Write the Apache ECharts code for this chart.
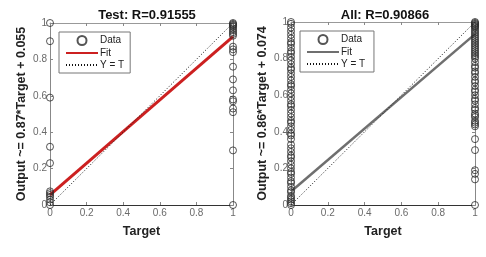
<!DOCTYPE html>
<html><head><meta charset="utf-8">
<script src="https://cdn.jsdelivr.net/npm/echarts@6/dist/echarts.min.js"></script>
<style>html,body{margin:0;padding:0;background:#fff}#c{width:486px;height:257px}</style>
</head><body><div id="c"></div>
<script>
// ---- data ----
const titles = ['Test: R=0.91555', 'All: R=0.90866'];
const yNames = ['Output ~= 0.87*Target + 0.055', 'Output ~= 0.86*Target + 0.074'];
const xName = 'Target';
const ticks = [0, 0.2, 0.4, 0.6, 0.8, 1];
// Test panel outputs for target 0 and target 1
const testT0 = [1.0, 0.9, 0.59, 0.32, 0.23, 0.075, 0.065, 0.055, 0.045, 0.03, 0.015, 0.0];
const testT1 = [1.0, 0.995, 0.99, 0.985, 0.98, 0.97, 0.96, 0.95, 0.94, 0.93, 0.87, 0.855, 0.84, 0.76, 0.69, 0.63, 0.58, 0.57, 0.53, 0.51, 0.30, 0.0];
const testFit = [0.055, 0.925];   // fit line at target 0 and 1
// All panel outputs
const allT0 = [1.0, 0.99, 0.97, 0.95, 0.93, 0.91, 0.89, 0.88, 0.86, 0.84, 0.83, 0.81, 0.79, 0.77, 0.75, 0.74, 0.72, 0.70, 0.68, 0.66, 0.65, 0.63, 0.61, 0.59, 0.57, 0.55, 0.54, 0.52, 0.50, 0.48, 0.46, 0.45, 0.43, 0.41, 0.39, 0.38, 0.36, 0.33, 0.31, 0.29, 0.27, 0.26, 0.24, 0.22, 0.20, 0.18, 0.17, 0.15, 0.13, 0.12, 0.10, 0.08, 0.07, 0.05, 0.04, 0.03, 0.02, 0.01, 0.0];
const allT1 = [1.0, 0.995, 0.99, 0.985, 0.98, 0.975, 0.97, 0.96, 0.95, 0.94, 0.93, 0.92, 0.91, 0.90, 0.89, 0.88, 0.87, 0.86, 0.85, 0.84, 0.83, 0.82, 0.81, 0.80, 0.78, 0.76, 0.75, 0.73, 0.72, 0.70, 0.68, 0.67, 0.65, 0.63, 0.62, 0.60, 0.58, 0.57, 0.55, 0.53, 0.52, 0.50, 0.49, 0.48, 0.46, 0.45, 0.44, 0.43, 0.36, 0.30, 0.19, 0.17, 0.14, 0.0];
const allFit = [0.074, 0.934];
const identity = [0, 1];

const FONT = 'Liberation Sans, Arial, sans-serif';
const chart = echarts.init(document.getElementById('c'), null, {renderer: 'canvas'});

function pts(t0, t1) {
  return t0.map(v => [0, v]).concat(t1.map(v => [1, v]));
}
const grids = [
  {left: 50, top: 23, width: 183, height: 182},
  {left: 291, top: 22, width: 184, height: 183}
];
function axisBase(gi, pos, showLabel, lineColor) {
  return {
    type: 'value', gridIndex: gi, position: pos, min: 0, max: 1, interval: 0.2,
    axisLine: {show: true, onZero: false, lineStyle: {color: lineColor, width: 1}},
    axisTick: {show: true, inside: true, length: 3, lineStyle: {color: '#888'}},
    axisLabel: {show: showLabel, color: '#6a6a6a', fontSize: 10, fontFamily: FONT, margin: 3,
      formatter: v => String(+v.toFixed(1))},
    splitLine: {show: false}
  };
}
const xAxes = [], yAxes = [];
[0, 1].forEach(g => {
  xAxes.push(Object.assign(axisBase(g, 'bottom', true, '#333'), {
    name: xName, nameLocation: 'middle', nameGap: 20,
    nameTextStyle: {fontSize: 12.5, fontWeight: 'bold', color: '#222', fontFamily: FONT}}));
  xAxes.push(axisBase(g, 'top', false, '#999'));
  yAxes.push(Object.assign(axisBase(g, 'left', true, '#888'), {
    name: yNames[g], nameLocation: 'middle', nameGap: 22, nameRotate: 90,
    nameTextStyle: {fontSize: 12.5, fontWeight: 'bold', color: '#222', fontFamily: FONT}}));
  yAxes.push(axisBase(g, 'right', false, '#888'));
});

const fitColors = ['#cc2020', '#6f6f6f'];
const fitWidths = [3, 2.5];
const fits = [testFit, allFit];
const pointSets = [pts(testT0, testT1), pts(allT0, allT1)];
const suffix = ['', ' '];
const series = [];
[0, 1].forEach(g => {
  series.push({
    name: 'Fit' + suffix[g], type: 'line', xAxisIndex: g * 2, yAxisIndex: g * 2,
    data: [[0, fits[g][0]], [1, fits[g][1]]], symbol: 'none', z: 2,
    lineStyle: {color: fitColors[g], width: fitWidths[g]}, itemStyle: {color: fitColors[g]}
  });
  series.push({
    name: 'Y = T' + suffix[g], type: 'line', xAxisIndex: g * 2, yAxisIndex: g * 2,
    data: [[0, identity[0]], [1, identity[1]]], symbol: 'none', z: 2,
    lineStyle: {color: '#111', width: 1, type: [1, 2]}, itemStyle: {color: '#111'}
  });
  series.push({
    name: 'Data' + suffix[g], type: 'scatter', xAxisIndex: g * 2, yAxisIndex: g * 2,
    data: pointSets[g], symbol: 'circle', symbolSize: 7, clip: false, z: 3,
    itemStyle: {color: 'rgba(0,0,0,0)', borderColor: '#2a2a2a', borderWidth: 1},
    emphasis: {disabled: true}
  });
});

const legendPos = [{left: 59, top: 32}, {left: 300, top: 31}];
const legends = [0, 1].map(g => ({
  left: legendPos[g].left, top: legendPos[g].top, orient: 'vertical',
  data: [
    {name: 'Data' + suffix[g]},
    {name: 'Fit' + suffix[g], itemStyle: {opacity: 0}},
    {name: 'Y = T' + suffix[g], itemStyle: {opacity: 0}}
  ],
  backgroundColor: '#fff', borderColor: '#777', borderWidth: 1, borderRadius: 0,
  padding: [3, 6, 3, 6], itemGap: 2, itemWidth: 32, itemHeight: 9,
  textStyle: {fontSize: 10, color: '#222', fontFamily: FONT, padding: [0, 0, 0, -3]},
  selectedMode: false, z: 10
}));

chart.setOption({
  animation: false,
  title: [0, 1].map(g => ({
    text: titles[g], left: g === 0 ? 142 : 380, top: 4, textAlign: 'center',
    textStyle: {fontSize: 13, fontWeight: 'bold', color: '#111', fontFamily: FONT}
  })),
  legend: legends,
  grid: grids,
  xAxis: xAxes,
  yAxis: yAxes,
  series: series
});
</script></body></html>
